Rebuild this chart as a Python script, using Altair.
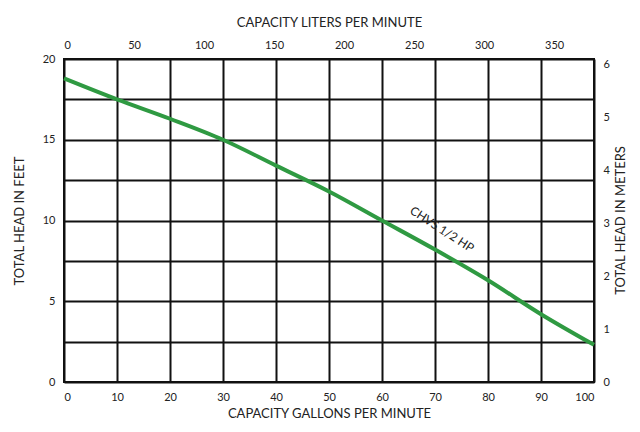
import altair as alt
import pandas as pd

# Pump curve (gallons per minute vs total head in feet)
gpm = [0, 10, 20, 30, 40, 50, 60, 70, 80, 90, 100]
head_ft = [18.8, 17.5, 16.3, 15.0, 13.4, 11.8, 10.0, 8.2, 6.3, 4.2, 2.3]

# Axis ticks
gpm_ticks = [0, 10, 20, 30, 40, 50, 60, 70, 80, 90, 100]
ft_grid = [0, 2.5, 5, 7.5, 10, 12.5, 15, 17.5, 20]
lpm_ticks = [0, 50, 100, 150, 200, 250, 300, 350]
m_ticks = [0, 1, 2, 3, 4, 5, 6]

# Secondary scale extents (unit conversions)
lpm_extent = [0, 378.5]
m_extent = [0, 6.096]

label_text = ["CHVS 1/2 HP"]
label_gpm = [71.3]
label_ft = [9.45]

FONT = "Lato"
TXT = "#222222"

curve = pd.DataFrame({"gpm": gpm, "ft": head_ft})
lab = pd.DataFrame({"gpm": label_gpm, "ft": label_ft, "t": label_text})
sec = pd.DataFrame({"lpm": lpm_extent, "m": m_extent})

xs = alt.Scale(domain=[0, 100], nice=False, zero=False)
ys = alt.Scale(domain=[0, 20], nice=False, zero=False)

line = alt.Chart(curve).mark_line(color="#2f9a42", strokeWidth=4, interpolate="monotone").encode(
    x=alt.X("gpm:Q", scale=xs, axis=alt.Axis(
        orient="bottom", values=gpm_ticks, title="CAPACITY GALLONS PER MINUTE",
        grid=True, gridColor="#111111", gridWidth=2, gridOpacity=1,
        ticks=False, domain=False, labelPadding=9, titlePadding=5,
        labelFontSize=11, titleFontSize=13, titleFontWeight="normal",
        labelFont=FONT, titleFont=FONT, labelColor=TXT, titleColor=TXT)),
    y=alt.Y("ft:Q", scale=ys, axis=alt.Axis(
        orient="left", values=ft_grid, title="TOTAL HEAD IN FEET",
        labelExpr="datum.value % 5 == 0 ? datum.label : ''",
        grid=True, gridColor="#111111", gridWidth=2, gridOpacity=1,
        ticks=False, domain=False, labelPadding=9, titlePadding=16,
        labelFontSize=11, titleFontSize=13, titleFontWeight="normal",
        labelFont=FONT, titleFont=FONT, labelColor=TXT, titleColor=TXT)),
)

text = alt.Chart(lab).mark_text(angle=33, font=FONT, fontSize=12, color=TXT,
                                align="center", baseline="middle").encode(
    x=alt.X("gpm:Q", scale=xs),
    y=alt.Y("ft:Q", scale=ys),
    text="t:N",
)

main = alt.layer(line, text)

hidden = alt.Chart(sec).mark_point(opacity=0).encode(
    x=alt.X("lpm:Q", scale=alt.Scale(domain=lpm_extent, nice=False, zero=False), axis=alt.Axis(
        orient="top", values=lpm_ticks, title="CAPACITY LITERS PER MINUTE",
        grid=False, ticks=False, domain=False, labelPadding=9, titlePadding=10,
        labelFontSize=11, titleFontSize=13, titleFontWeight="normal",
        labelFont=FONT, titleFont=FONT, labelColor=TXT, titleColor=TXT)),
    y=alt.Y("m:Q", scale=alt.Scale(domain=m_extent, nice=False, zero=False), axis=alt.Axis(
        orient="right", values=m_ticks, title="TOTAL HEAD IN METERS", titleAngle=270,
        titleX=26, titleY=161, titleAlign="center", titleBaseline="middle",
        grid=False, ticks=False, domain=False, labelPadding=9,
        labelFontSize=11, titleFontSize=13, titleFontWeight="normal",
        labelFont=FONT, titleFont=FONT, labelColor=TXT, titleColor=TXT)),
)

chart = alt.layer(main, hidden).resolve_scale(x="independent", y="independent").properties(
    width=530, height=323,
    autosize=alt.AutoSizeParams(type="none"),
    padding={"left": 56, "top": 51, "right": 36, "bottom": 40},
    background="white",
).configure_view(stroke="#111111", strokeWidth=2)

chart.save("out.html", embed_options={"renderer": "svg", "actions": False})
